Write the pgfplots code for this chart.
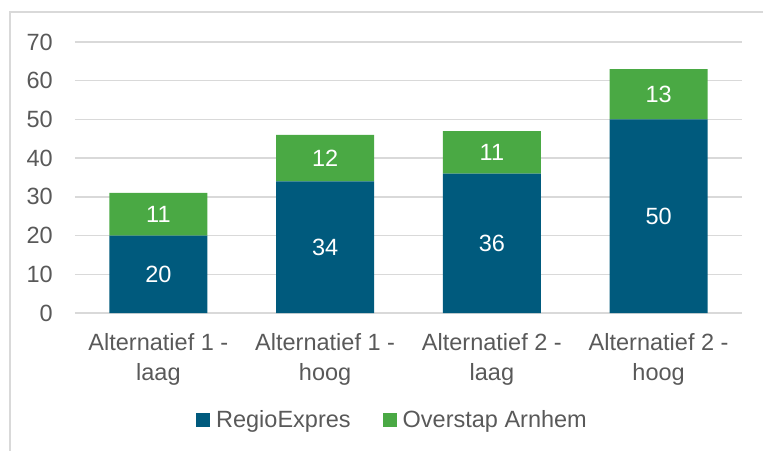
\documentclass[border=0pt]{standalone}
\usepackage{pgfplots}
\pgfplotsset{compat=1.18}
\usepackage{fontspec}
\setmainfont{Liberation Sans}
\definecolor{rblue}{HTML}{005A7D}
\definecolor{rgreen}{HTML}{4AA944}
\definecolor{txt}{HTML}{595959}
\definecolor{gridc}{HTML}{D9D9D9}
\newcommand{\cf}{\fontsize{23.5}{30}\selectfont}
\begin{document}
\begin{tikzpicture}
\begin{axis}[
  at={(0pt,0pt)}, anchor=south west,
  scale only axis, width=667pt, height=271pt,
  ybar stacked, bar width=98pt,
  legend image code/.code={\fill[#1] (0pt,-7pt) rectangle (14pt,7pt);},
  xmin=-0.5, xmax=3.5, ymin=0, ymax=70,
  ytick={0,10,...,70},
  xtick={0,1,2,3},
  xticklabels={{Alternatief 1 -\\laag},{Alternatief 1 -\\hoog},{Alternatief 2 -\\laag},{Alternatief 2 -\\hoog}},
  ymajorgrids, grid style={gridc, line width=1.5pt},
  axis line style={draw=none},
  major tick length=0pt,
  tick label style={font=\cf, text=txt},
  /pgf/number format/assume math mode=true,
  xticklabel style={align=center, anchor=north, inner sep=0pt, yshift=-20pt},
  yticklabel style={anchor=east, inner sep=0pt, xshift=-22pt},
  legend columns=2,
  legend style={at={(0.476,-0.395)}, anchor=center, draw=none, fill=none, font=\cf, text=txt,
    /tikz/every odd column/.append style={column sep=4pt},
    /tikz/every even column/.append style={column sep=30pt}},
]
\addplot[fill=rblue, draw=none] coordinates {(0,20) (1,34) (2,36) (3,50)};
\addplot[fill=rgreen, draw=none] coordinates {(0,11) (1,12) (2,11) (3,13)};
\legend{RegioExpres, Overstap Arnhem}
\end{axis}
\begin{axis}[
  at={(0pt,0pt)}, anchor=south west,
  scale only axis, width=667pt, height=271pt,
  xmin=-0.5, xmax=3.5, ymin=0, ymax=70,
  hide axis,
  nodes near coords,
  point meta=explicit symbolic,
  every node near coord/.style={font=\cf, text=white, anchor=center, inner sep=0pt},
]
\addplot[draw=none, mark=none] coordinates {(0,10) [20] (1,17) [34] (2,18) [36] (3,25) [50]};
\addplot[draw=none, mark=none] coordinates {(0,25.5) [11] (1,40) [12] (2,41.5) [11] (3,56.5) [13]};
\end{axis}
\pgfresetboundingbox
\path[use as bounding box] (-75pt,-137pt) rectangle (688pt,313pt);
\draw[gridc, line width=1.5pt] (-65pt,-200pt) -- (-65pt,301pt) -- (800pt,301pt);
\end{tikzpicture}
\end{document}
